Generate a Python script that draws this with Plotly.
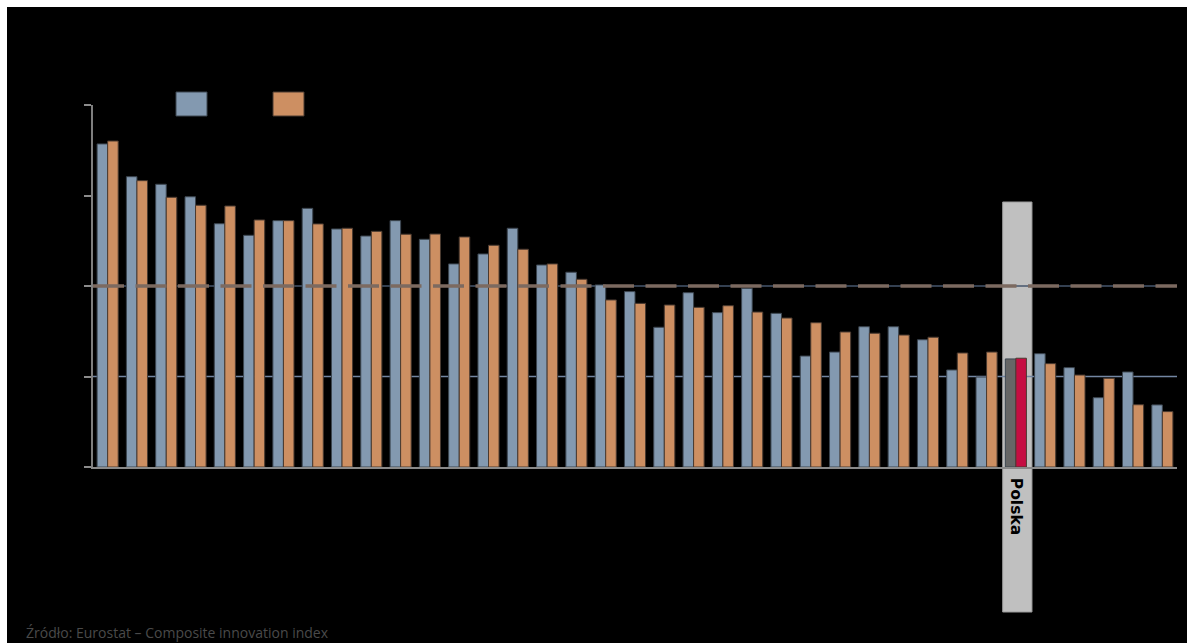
import plotly.graph_objects as go

# ---- data (EU average = 100) ----
categories = [f"Kraj {i}" for i in range(1, 32)] + ["Polska"] + [f"Kraj {i}" for i in range(33, 38)]
series_a_name = "Okres 1"
series_b_name = "Okres 2"
series_a = [178.5, 160.4, 156.2, 149.3, 134.4, 128.0, 136.1, 142.9, 131.5, 127.6,
            136.1, 125.8, 112.2, 117.7, 131.9, 111.6, 107.6, 100.6, 96.9, 77.2,
            96.3, 85.3, 98.7, 84.9, 61.3, 63.5, 77.5, 77.5, 70.3, 53.6,
            49.7, 59.7, 62.6, 54.9, 38.3, 52.5, 34.3]
series_b = [180.1, 158.2, 149.0, 144.6, 144.2, 136.5, 136.1, 134.3, 131.9, 130.2,
            128.6, 128.7, 127.1, 122.5, 120.3, 112.2, 103.7, 92.3, 90.4, 89.5,
            88.2, 89.1, 85.6, 82.3, 79.7, 74.6, 73.9, 72.9, 71.7, 63.0,
            63.5, 60.1, 57.1, 50.8, 49.0, 34.4, 30.6]
eu_average = 100
reference_level = 50
highlight = "Polska"
y_ticks = [0, 50, 100, 150, 200]
source_text = "Źródło: Eurostat – Composite innovation index"

# ---- styling ----
BLUE, ORANGE = "#8399B0", "#CD8F62"
HL_A, HL_B = "#666666", "#C50D42"
W, H = 1187, 643
L, R, T, B = 93, 10, 105, 176
PW, PH = W - L - R, H - T - B

def px_x(p):
    return (p - L) / PW

def px_y(p):
    return 1 - (p - T) / PH

colors_a = [HL_A if c == highlight else BLUE for c in categories]
colors_b = [HL_B if c == highlight else ORANGE for c in categories]

fig = go.Figure()
fig.add_bar(x=categories, y=series_a, name=series_a_name,
            marker=dict(color=colors_a, line=dict(color="#3c4650", width=1)))
fig.add_bar(x=categories, y=series_b, name=series_b_name,
            marker=dict(color=colors_b, line=dict(color="#4a3a30", width=1)))

hl_idx = categories.index(highlight)
shapes = [
    # white frame strips (top / left)
    dict(type="rect", xref="paper", yref="paper", x0=px_x(0), x1=px_x(W), y0=px_y(0), y1=px_y(7),
         fillcolor="white", line=dict(width=0), layer="below"),
    dict(type="rect", xref="paper", yref="paper", x0=px_x(0), x1=px_x(7), y0=px_y(0), y1=px_y(H),
         fillcolor="white", line=dict(width=0), layer="below"),
    # highlight band
    dict(type="rect", xref="x", yref="paper", x0=hl_idx - 0.45, x1=hl_idx + 0.55,
         y0=px_y(612), y1=px_y(202), fillcolor="#C0C0C0",
         line=dict(color="#9a9a9a", width=1), layer="below"),
    # thin reference lines
    dict(type="line", xref="paper", yref="y", x0=0, x1=1, y0=reference_level, y1=reference_level,
         line=dict(color="#7386A2", width=1.5), layer="below"),
    dict(type="line", xref="paper", yref="y", x0=0, x1=1, y0=eu_average, y1=eu_average,
         line=dict(color="#46566C", width=1.5), layer="below"),
    # dashed EU average line
    dict(type="line", xref="paper", yref="y", x0=0, x1=1, y0=eu_average, y1=eu_average,
         line=dict(color="#7C6A60", width=3.5, dash="31px,11.5px"), layer="above"),
    # legend boxes
    dict(type="rect", xref="paper", yref="paper", x0=px_x(176), x1=px_x(207), y0=px_y(116), y1=px_y(92),
         fillcolor=BLUE, line=dict(color="#3c4650", width=1)),
    dict(type="rect", xref="paper", yref="paper", x0=px_x(273), x1=px_x(304), y0=px_y(116), y1=px_y(92),
         fillcolor=ORANGE, line=dict(color="#4a3a30", width=1)),
]

fig.update_layout(
    width=W, height=H,
    margin=dict(l=L, r=R, t=T, b=B, pad=0),
    paper_bgcolor="black", plot_bgcolor="rgba(0,0,0,0)",
    barmode="group", bargap=0.28, bargroupgap=0,
    showlegend=False,
    shapes=shapes,
    font=dict(family="Open Sans", color="black"),
    annotations=[dict(text=source_text, xref="paper", yref="paper",
                      x=px_x(24), y=px_y(632), xanchor="left", yanchor="middle",
                      showarrow=False, font=dict(family="Open Sans", size=14, color="#4a4a4a"))],
)
fig.update_xaxes(
    type="category", showgrid=False, zeroline=False,
    showline=True, linecolor="#8a8a8a", linewidth=1.5,
    ticks="", tickmode="array", tickvals=categories,
    ticktext=[f"<b>{c}</b>" if c == highlight else "" for c in categories],
    tickangle=90, ticklabelstandoff=6,
    tickfont=dict(family="DejaVu Sans", size=15.5, color="black"),
)
fig.update_yaxes(
    range=[0, 200], tickvals=y_ticks, showgrid=False, zeroline=False,
    showline=True, linecolor="#7f7f7f", linewidth=2,
    ticks="outside", ticklen=7, tickcolor="#8c8c8c", tickwidth=1.5,
    tickfont=dict(color="black", size=12),
)

fig.write_html("out.html")
